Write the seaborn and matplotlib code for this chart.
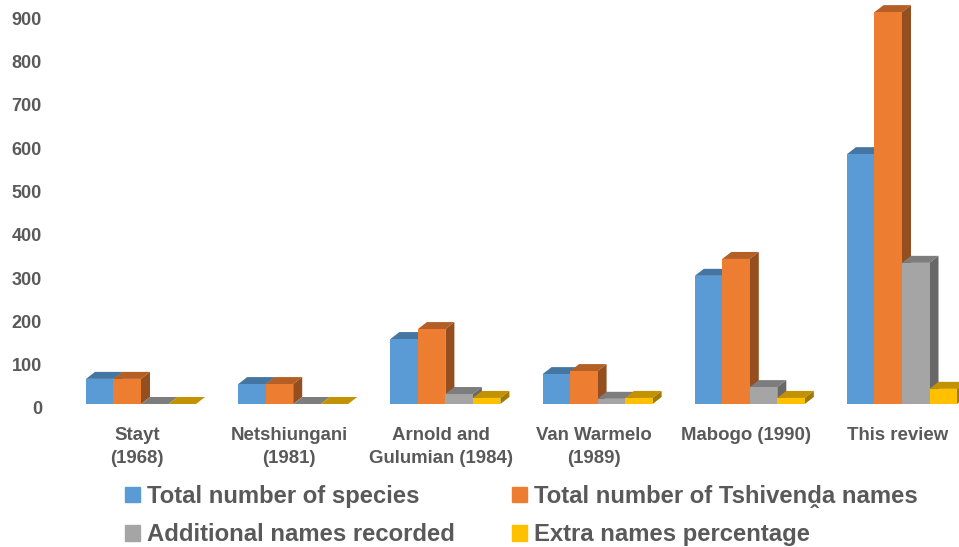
#!/usr/bin/env python3
"""Bar chart of plant name records per source, with a drawn-on 3D look."""

import matplotlib.pyplot as plt
import matplotlib.colors as mcolors
from matplotlib.patches import Patch
from matplotlib.transforms import ScaledTranslation
import pandas as pd
import seaborn as sns

sources = ["Stayt\n(1968)", "Netshiungani\n(1981)", "Arnold and\nGulumian (1984)",
           "Van Warmelo\n(1989)", "Mabogo (1990)", "This review"]
species = [58, 46, 150, 69, 296, 577]
tshivenda_names = [58, 46, 173, 76, 335, 905]
additional_names = [0, 0, 23, 12, 39, 326]
extra_percentage = [0, 0, 14, 14, 14, 35]

series_names = ["Total number of species", "Total number of Tshivenḓa names",
                "Additional names recorded", "Extra names percentage"]
series_colors = ["#5B9BD5", "#ED7D31", "#A5A5A5", "#FFC000"]
y_ticks = list(range(0, 1000, 100))

TEXT_COLOR = "#595959"
W, H = 959, 547
BASE_Y = 404        # pixel row of the bar floor
PX_PER_CAT = 152.2
PX_PER_UNIT = 0.433


def add_depth(ax):
    """Give every bar a top face and a side face, left to right."""
    dx, dy = 9 / PX_PER_CAT, 7 / PX_PER_UNIT
    bars = sorted(ax.patches, key=lambda p: p.get_x())
    for i, bar in enumerate(bars):
        x0, x1 = bar.get_x(), bar.get_x() + bar.get_width()
        top = bar.get_height()
        rgb = mcolors.to_rgb(bar.get_facecolor())
        top_col = tuple(c * 0.76 for c in rgb)
        side_col = tuple(c * 0.63 for c in rgb)
        z = 2 + i * 0.01
        ax.fill([x0, x1, x1 + dx, x0 + dx], [top, top, top + dy, top + dy],
                color=top_col, lw=0, zorder=z, clip_on=False)
        ax.fill([x1, x1 + dx, x1 + dx, x1], [0, dy, top + dy, top],
                color=side_col, lw=0, zorder=z, clip_on=False)
        bar.set_zorder(z + 0.005)


def main():
    sns.set_style("white")
    plt.rcParams["font.family"] = ["Liberation Sans", "DejaVu Sans"]

    df = pd.DataFrame({"source": sources * 4,
                       "series": [n for n in series_names for _ in sources],
                       "value": species + tshivenda_names + additional_names + extra_percentage})

    fig = plt.figure(figsize=(W / 100, H / 100), dpi=100)
    ax = fig.add_axes([60 / W, (H - BASE_Y) / H, (W - 60) / W, BASE_Y / H])

    sns.barplot(data=df, x="source", y="value", hue="series", hue_order=series_names,
                palette=series_colors, width=0.723, saturation=1, legend=False,
                linewidth=0, ax=ax)
    add_depth(ax)

    ax.set_xlim((60 - 141) / PX_PER_CAT, (W - 141) / PX_PER_CAT)
    ax.set_ylim(0, BASE_Y / PX_PER_UNIT)
    ax.set_xlabel("")
    ax.set_ylabel("")
    sns.despine(ax=ax, left=True, bottom=True)

    ax.set_yticks(y_ticks)
    ax.tick_params(axis="y", length=0, pad=13, labelsize=13, labelcolor=TEXT_COLOR)
    ax.tick_params(axis="x", length=0, pad=16.5, labelsize=13.4, labelcolor=TEXT_COLOR)
    for label in ax.get_yticklabels():
        label.set_fontweight("bold")
        # axis labels sit a little below the front floor of the bars
        label.set_transform(label.get_transform() + ScaledTranslation(0, -4 / 100, fig.dpi_scale_trans))
    for label in ax.get_xticklabels():
        label.set_fontweight("bold")
        label.set_linespacing(1.44)
        label.set_transform(label.get_transform() + ScaledTranslation(-4 / 100, 0, fig.dpi_scale_trans))

    order = [0, 2, 1, 3]
    handles = [Patch(color=series_colors[i], label=series_names[i]) for i in order]
    fig.legend(handles=handles, ncol=2, frameon=False, loc="upper left",
               bbox_to_anchor=(125 / W, 1 - 485 / H), borderaxespad=0, borderpad=0,
               prop={"weight": "bold", "size": 17.2}, labelcolor=TEXT_COLOR,
               handlelength=0.63, handleheight=0.63, handletextpad=0.29,
               columnspacing=2.39, labelspacing=0.64)

    fig.savefig("out.png", dpi=100)
    plt.close(fig)


if __name__ == "__main__":
    main()
